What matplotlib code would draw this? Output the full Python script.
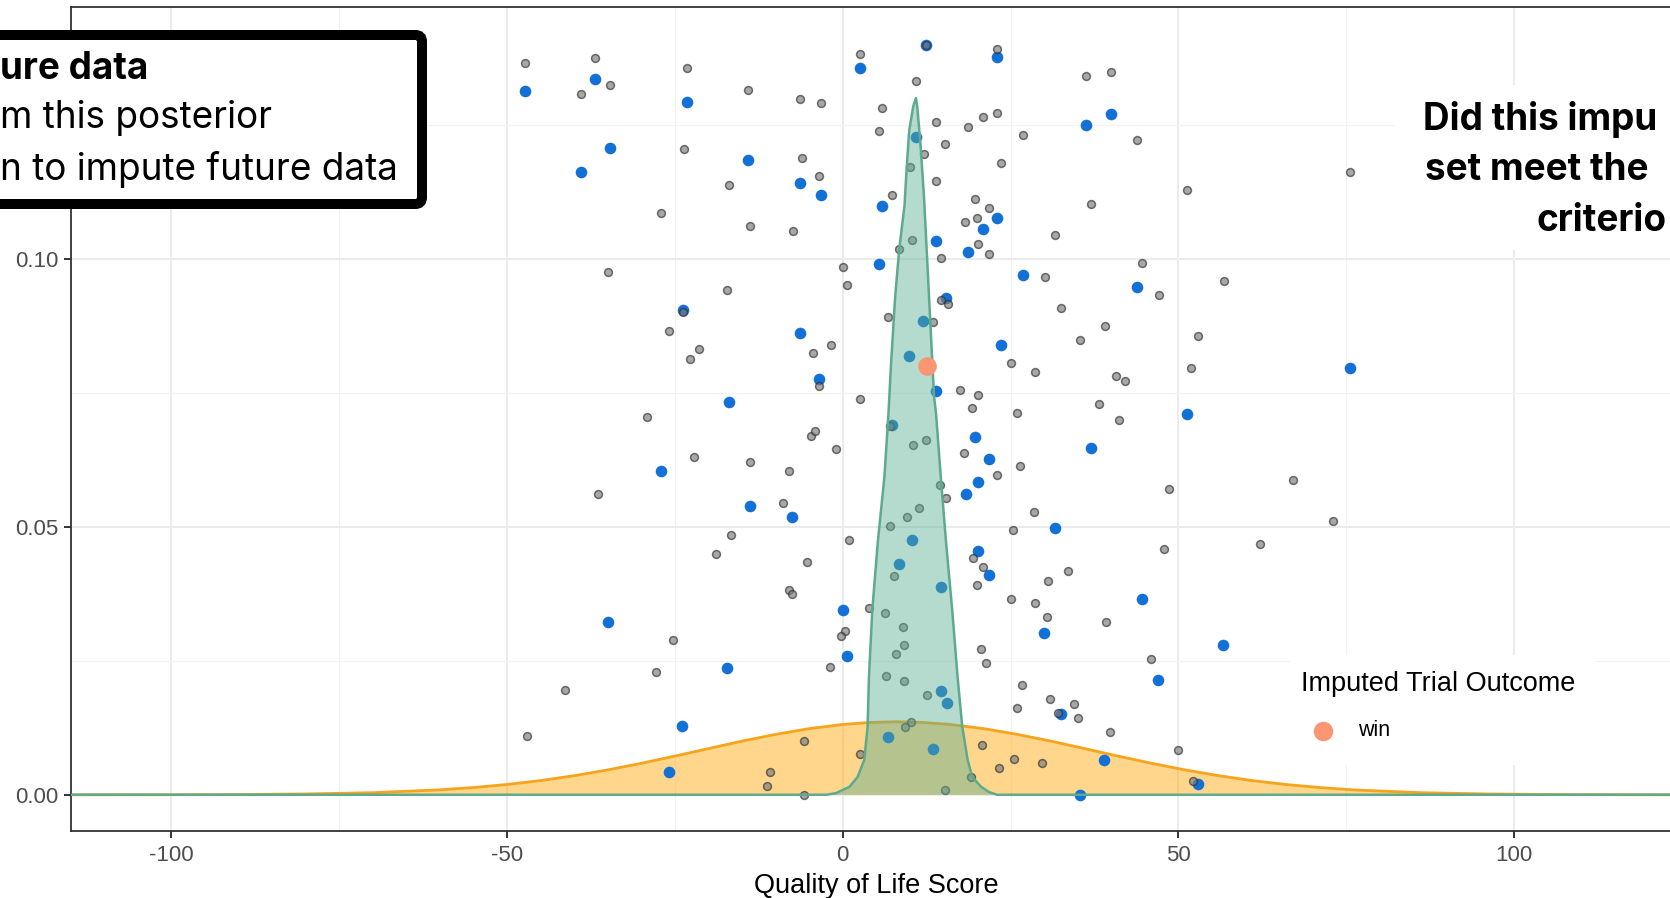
import matplotlib
matplotlib.use("Agg")
import matplotlib.pyplot as plt
from matplotlib.patches import FancyBboxPatch, Rectangle
from matplotlib.lines import Line2D

# ---------------- data ----------------
gray_x = [-47.3, -36.9, -34.6, -39.0, -23.2, -14.1, -6.3, -23.7, -17.0, -27.0, -13.8, -7.4, -35.0, -17.3,
          -23.8, -25.9, -21.4, -22.7, -29.1,
          -22.1, -13.8, -8.0, -36.5, -8.9, -16.6, -18.9, -8.0, -7.5, -25.3, -27.8, -41.3, -47.1, -10.8, -11.3,
          -3.3, 2.6, 10.9, 12.4, 22.9, 5.8, 5.4, 13.9, 18.6, 20.9, 23.0, 26.8, 36.2, 15.3, 12.1, 10.0, 23.6,
          -6.0, -3.5, 13.9, 7.3, 19.7, 21.8, 20.0, 18.2, 10.3, 8.4, 20.2, 21.8, 14.6, 31.6, 0.0, 0.6, 30.1,
          14.7, 15.7, 32.5, 6.7, 13.5, -1.8, -4.4, 35.4, 25.0, 28.7, -3.6, 2.6, 17.5, 20.2, 19.2, 26.0,
          40.0, 43.8, 75.5, 51.2, 37.0, 44.5, 56.8, 47.1, 39.0, 52.9, 51.9, 40.7, 42.0, 38.2, 41.2,
          -4.8, -4.2, -1.0, 10.5, 12.4, 7.0, 18.1, 22.9, 26.4, 14.5, 15.4, 11.3, 9.5, 7.0, 28.5, 25.4, 1.0,
          -5.4, 19.4, 20.9, 20.0, 7.6, 33.5, 30.5, 25.0, 28.7, 30.4, 3.9, 6.3, 9.0, 0.3, -0.3, 9.1, 7.9,
          20.6, 21.4, -1.9, 6.5, 9.1, 12.5, 26.7, 30.9, 34.4, 35.1, 26.0, 32.0, 10.1, 9.3, -5.7, 2.6, 20.7,
          25.5, 23.2, 29.7, 19.1, 15.3, -5.8,
          48.6, 67.1, 73.0, 47.8, 62.1, 39.2, 45.9, 39.8, 49.9, 52.1]
gray_y = [0.1366, 0.1375, 0.1324, 0.1307, 0.1357, 0.1315, 0.1298, 0.1205, 0.1137, 0.1086, 0.1061, 0.1052,
          0.0976, 0.0942, 0.0900, 0.0865, 0.0831, 0.0814, 0.0705,
          0.0630, 0.0621, 0.0604, 0.0561, 0.0544, 0.0485, 0.0450, 0.0383, 0.0374, 0.0289, 0.0229, 0.0195,
          0.0110, 0.0042, 0.0016,
          0.1290, 0.1383, 0.1332, 0.1400, 0.1392, 0.1281, 0.1239, 0.1256, 0.1247, 0.1264, 0.1273, 0.1231,
          0.1341, 0.1214, 0.1196, 0.1171, 0.1179, 0.1188, 0.1154, 0.1145, 0.1120, 0.1112, 0.1095, 0.1077,
          0.1069, 0.1035, 0.1018, 0.1027, 0.1010, 0.1001, 0.1044, 0.0984, 0.0951, 0.0967, 0.0924, 0.0916,
          0.0908, 0.0891, 0.0882, 0.0840, 0.0824, 0.0848, 0.0806, 0.0789, 0.0763, 0.0738, 0.0755, 0.0746,
          0.0721, 0.0713,
          0.1349, 0.1222, 0.1163, 0.1128, 0.1103, 0.0993, 0.0959, 0.0933, 0.0874, 0.0857, 0.0797, 0.0781,
          0.0772, 0.0730, 0.0700,
          0.0670, 0.0679, 0.0646, 0.0653, 0.0662, 0.0689, 0.0638, 0.0596, 0.0613, 0.0578, 0.0553, 0.0535,
          0.0519, 0.0502, 0.0527, 0.0494, 0.0476, 0.0434, 0.0442, 0.0425, 0.0391, 0.0409, 0.0417, 0.0399,
          0.0366, 0.0357, 0.0331, 0.0348, 0.0340, 0.0314, 0.0306, 0.0297, 0.0280, 0.0263, 0.0272, 0.0246,
          0.0238, 0.0221, 0.0212, 0.0186, 0.0204, 0.0178, 0.0170, 0.0144, 0.0161, 0.0153, 0.0135, 0.0127,
          0.0101, 0.0076, 0.0093, 0.0067, 0.0050, 0.0059, 0.0033, 0.0008, 0.0000,
          0.0570, 0.0587, 0.0510, 0.0459, 0.0468, 0.0323, 0.0254, 0.0118, 0.0084, 0.0025]

blue_x = [-47.3, -36.9, -23.2, -34.6, -39.0, -14.1, -6.3, -23.8, -6.3, -17.0,
          -27.0, -13.8, -7.5, -35.0, -17.3, -23.9, -25.9,
          2.6, 12.4, 22.9, 10.9, 36.2, -3.3, 5.8, 23.0, 20.9, 13.9, 18.6, 5.4, 26.8, 15.4, 12.0, 23.6, 9.9,
          -3.5, 13.9,
          40.0, 43.8, 75.5, 51.2,
          19.7, 21.8, 20.1, 18.3, 31.6, 20.2, 21.8, 0.0, 30.0, 0.6, 32.5, 35.4, 7.4, 10.3, 8.4, 14.6, 14.6,
          15.6, 6.7, 13.5,
          37.0, 44.5, 56.7, 47.0, 38.9, 52.9]
blue_y = [0.1314, 0.1336, 0.1293, 0.1206, 0.1163, 0.1184, 0.1141, 0.0904, 0.0861, 0.0732,
          0.0605, 0.0539, 0.0518, 0.0323, 0.0237, 0.0129, 0.0042,
          0.1357, 0.1400, 0.1377, 0.1227, 0.1249, 0.1120, 0.1099, 0.1077, 0.1055, 0.1034, 0.1012, 0.0991,
          0.0969, 0.0927, 0.0884, 0.0840, 0.0819, 0.0776, 0.0754,
          0.1271, 0.0948, 0.0797, 0.0710,
          0.0668, 0.0626, 0.0583, 0.0562, 0.0497, 0.0454, 0.0410, 0.0345, 0.0302, 0.0259, 0.0150, 0.0000,
          0.0690, 0.0475, 0.0431, 0.0388, 0.0194, 0.0172, 0.0107, 0.0085,
          0.0647, 0.0366, 0.0280, 0.0215, 0.0064, 0.0020]

win_x = [12.5]
win_y = [0.0800]

prior_x = [-130, -115, -100, -90, -80, -70, -60, -55, -50, -45, -40, -35, -30, -25, -20, -15, -10, -5,
           0, 4, 8, 12, 16, 21, 26, 31, 36, 41, 46, 51, 56, 61, 66, 71, 76, 86, 96, 106, 116, 130]
prior_y = [0.0, 0.000002, 0.000015, 0.00005, 0.00015, 0.00039, 0.00092, 0.00135, 0.00192, 0.00265,
           0.00356, 0.00464, 0.00587, 0.00722, 0.00862, 0.01001, 0.01127, 0.01234, 0.01312, 0.01349,
           0.01362, 0.01349, 0.01312, 0.01234, 0.01127, 0.01001, 0.00862, 0.00722, 0.00587, 0.00464,
           0.00356, 0.00265, 0.00192, 0.00135, 0.00092, 0.00039, 0.00015, 0.00005, 0.000015, 0.0]

post_x = [-130, -2.5, -1.0, 1.0, 2.2, 3.2, 3.7, 3.9, 4.4, 5.2, 6.2, 6.8, 7.2, 7.8, 8.4, 9.2, 9.5, 9.9,
          10.5, 10.9, 11.1, 11.6, 12.1, 12.6, 13.1, 13.6, 13.9, 14.6, 15.4, 16.3, 17.1, 17.8, 18.6, 19.3,
          20.6, 21.8, 23.0, 140]
post_y = [0.0, 0.0, 0.0003, 0.0015, 0.0033, 0.0065, 0.0127, 0.0220, 0.0345, 0.0469, 0.0593, 0.0710,
          0.0806, 0.0929, 0.1017, 0.1100, 0.1166, 0.1240, 0.1285, 0.1300, 0.1284, 0.1210, 0.1116, 0.0992,
          0.0867, 0.0743, 0.0710, 0.0593, 0.0469, 0.0345, 0.0220, 0.0127, 0.0065, 0.0033, 0.0015, 0.0005,
          0.0, 0.0]

x_ticks = [-100, -50, 0, 50, 100]
x_tick_labels = ["-100", "-50", "0", "50", "100"]
x_minor = [-75, -25, 25, 75, 125]
y_ticks = [0.00, 0.05, 0.10]
y_tick_labels = ["0.00", "0.05", "0.10"]
y_minor = [0.025, 0.075, 0.125]

x_title = "Quality of Life Score"
legend_title = "Imputed Trial Outcome"
legend_label = "win"
left_lines = ["ure data", "m this posterior", "n to impute future data"]
right_lines = ["Did this impu", "set meet the", "criterio"]

# ---------------- figure ----------------
W, H = 1670, 898
fig = plt.figure(figsize=(W / 100, H / 100), dpi=100)
fig.patch.set_facecolor("white")


def fx(px):
    return px / W


def fy(py):
    return 1 - py / H


ax = fig.add_axes([fx(71), fy(831), 1611 / W, 824 / H])
ax.set_xlim(-114.95, 124.8)
ax.set_ylim(-0.00676, 0.1470)

ax.set_axisbelow(True)
ax.set_xticks(x_ticks)
ax.set_xticklabels(x_tick_labels)
ax.set_yticks(y_ticks)
ax.set_yticklabels(y_tick_labels)
ax.set_xticks(x_minor, minor=True)
ax.set_yticks(y_minor, minor=True)
ax.grid(which="major", color="#EBEBEB", lw=1.4)
ax.grid(which="minor", color="#F2F2F2", lw=0.8)
ax.tick_params(which="minor", length=0)
ax.tick_params(which="major", direction="out", length=5, width=1.4, color="#333333",
               labelsize=16, labelcolor="#4D4D4D")
ax.tick_params(axis="x", pad=5)
ax.tick_params(axis="y", pad=4)
for lab in ax.get_xticklabels() + ax.get_yticklabels():
    lab.set_family("Liberation Sans")
for sp in ax.spines.values():
    sp.set_color("#333333")
    sp.set_linewidth(1.3)

# prior density (orange)
ax.fill_between(prior_x, prior_y, 0, color="#FFA500", alpha=0.45, lw=0, zorder=2)
ax.plot(prior_x, prior_y, color="#F5A41C", lw=2.0, zorder=2.1)

# points
ax.scatter(blue_x, blue_y, s=70, color="#1270D6", lw=0, zorder=3)
ax.scatter(gray_x, gray_y, s=32, facecolor="#7A7A7A", edgecolor="#2E2E2E", lw=1.1, alpha=0.65, zorder=4)

# posterior density (teal)
ax.fill_between(post_x, post_y, 0, color="#5BAF94", alpha=0.45, lw=0, zorder=5)
ax.plot(post_x, post_y, color="#5DAA8E", lw=1.8, zorder=5.1)

# imputed outcome point
ax.scatter(win_x, win_y, s=180, color="#FA9672", lw=0, zorder=6)

ax.set_xlabel(x_title, fontsize=19.5, family="Liberation Sans", color="black", va="center")
ax.xaxis.set_label_coords(0.5, -(886 - 831) / 824)

# ---------------- legend (inside panel) ----------------
fig.add_artist(Rectangle((fx(1290), fy(765)), fx(1595) - fx(1290), fy(655) - fy(765),
                         transform=fig.transFigure, facecolor="white", edgecolor="none", zorder=2))
fig.text(fx(1301), fy(684), legend_title, fontsize=19.5, family="Liberation Sans",
         ha="left", va="center", zorder=3)
fig.add_artist(Line2D([fx(1323)], [fy(730.5)], marker="o", markersize=13, color="#FA9672",
                      linestyle="none", transform=fig.transFigure, zorder=3))
fig.text(fx(1358), fy(730), legend_label, fontsize=15.5, family="Liberation Sans",
         ha="left", va="center", zorder=3)

# ---------------- left annotation box ----------------
box = FancyBboxPatch((fx(-40), fy(204)), fx(422) - fx(-40), fy(35) - fy(204),
                     boxstyle="round,pad=0,rounding_size=0.004", mutation_aspect=W / H,
                     transform=fig.transFigure, facecolor="white", edgecolor="black",
                     lw=7.2, zorder=2)
fig.add_artist(box)
left_y = [69, 118, 170]
for i, (t, yy) in enumerate(zip(left_lines, left_y)):
    fig.text(fx(0), fy(yy), t, fontsize=26.6, family=["Inter", "DejaVu Sans"],
             fontweight="bold" if i == 0 else "normal", ha="left", va="center", zorder=3)

# ---------------- right annotation ----------------
fig.add_artist(Rectangle((fx(1395), fy(250)), fx(1700) - fx(1395), fy(85) - fy(250),
                         transform=fig.transFigure, facecolor="white", edgecolor="none", zorder=2))
right_pos = [(1423, 119), (1425, 170), (1536, 221)]
for t, (xx, yy) in zip(right_lines, right_pos):
    fig.text(fx(xx), fy(yy), t, fontsize=26.6, family=["Inter", "DejaVu Sans"], fontweight="bold",
             ha="left", va="center", zorder=3)

fig.savefig("out.png", dpi=100, facecolor="white")
